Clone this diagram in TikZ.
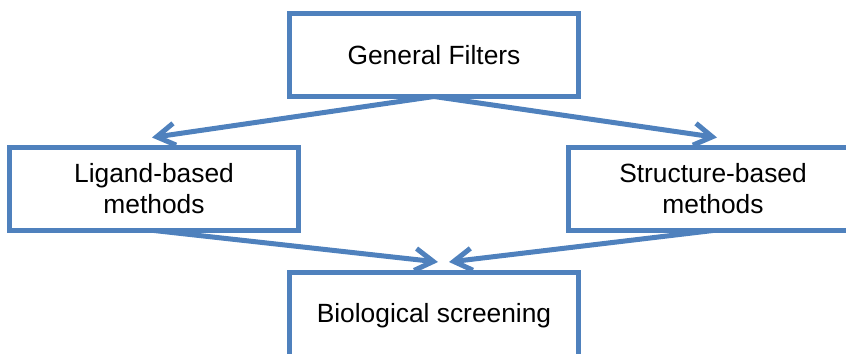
\documentclass[tikz,border=0pt]{standalone}
\usepackage{fontspec}
\setmainfont{Liberation Sans}
\usetikzlibrary{arrows.meta,calc}
\definecolor{boxblue}{RGB}{79,129,189}
\tikzset{stepbox/.style={draw=boxblue,line width=1mm,minimum width=5.78cm,
		minimum height=1.66cm,inner sep=0pt,outer sep=0pt,align=center,
		font=\fontsize{15}{17.6}\selectfont},
	flow/.style={draw=boxblue,line width=1mm,
		-{Straight Barb[length=3.6mm,width=4.4mm]}},
}

\begin{document}
\begin{tikzpicture}[x=0.02cm,y=-0.02cm]
	\useasboundingbox (0,0) rectangle (846,353);
	\clip (0,0) rectangle (846,353);
	
	\node[stepbox] (gf) at (434,55) {General Filters};
	\node[stepbox] (lig) at (154,189) {Ligand-based\\methods};
	\node[stepbox] (str) at (713,189) {Structure-based\\methods};
	\node[stepbox,anchor=north,minimum height=0pt,text height=1.02cm,
		text depth=1cm] (bio) at (434,272) {Biological screening};
	
	% arrow tips stop short of the boxes
	\coordinate (ligin) at ($(lig.north)+(-2,-10)$);
	\coordinate (strin) at ($(str.north)+(4,-10)$);
	\coordinate (bioinl) at ($(bio.north)+(4,-10)$);
	\coordinate (bioinr) at ($(bio.north)+(15,-10)$);
	
	\draw[flow] (gf.south) -- (ligin);
	\draw[flow] (gf.south) -- (strin);
	\draw[flow] (lig.south) -- (bioinl);
	\draw[flow] (str.south) -- (bioinr);
	
\end{tikzpicture}
\end{document}
